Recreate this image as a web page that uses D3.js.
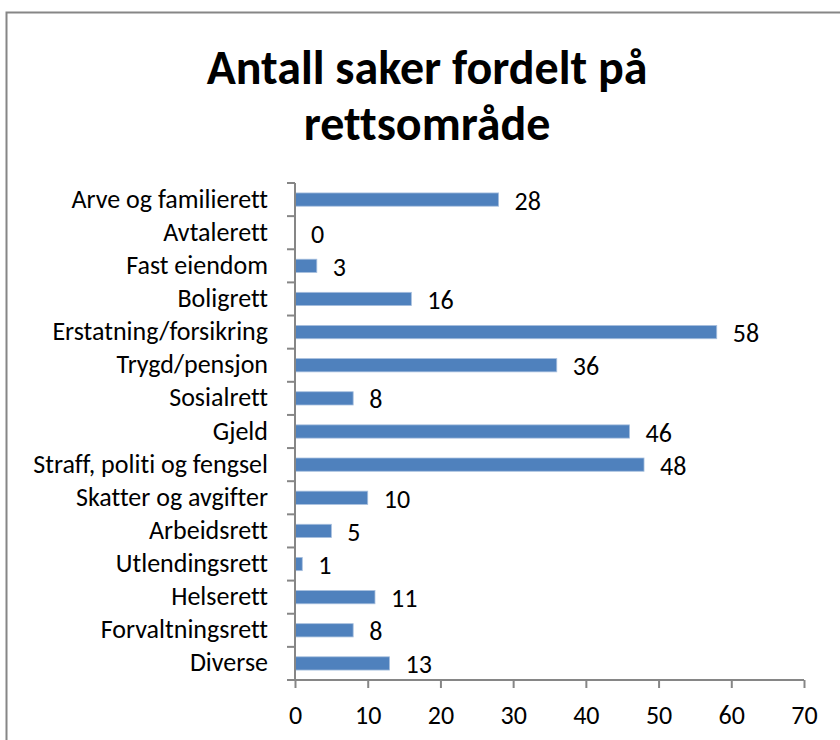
<!DOCTYPE html>
<html>
<head>
<meta charset="utf-8">
<title>Antall saker fordelt på rettsområde</title>
<script src="https://d3js.org/d3.v7.min.js"></script>
<style>
  body { margin: 0; background: #fff; }
  svg text { font-family: Carlito, Calibri, "Open Sans", sans-serif; fill: #000; font-variant-ligatures: none; }
  .axis path, .axis line { stroke: #868686; stroke-width: 2px; }
</style>
</head>
<body>
<div id="chart"></div>
<script>
// data
var categories = ["Arve og familierett", "Avtalerett", "Fast eiendom", "Boligrett",
  "Erstatning/forsikring", "Trygd/pensjon", "Sosialrett", "Gjeld",
  "Straff, politi og fengsel", "Skatter og avgifter", "Arbeidsrett",
  "Utlendingsrett", "Helserett", "Forvaltningsrett", "Diverse"];
var counts = [28, 0, 3, 16, 58, 36, 8, 46, 48, 10, 5, 1, 11, 8, 13];
var xTicks = [0, 10, 20, 30, 40, 50, 60, 70];
var titleLines = ["Antall saker fordelt på", "rettsområde"];

var W = 840, H = 740;
var svg = d3.select("#chart").append("svg")
    .attr("width", W)
    .attr("height", H);

// chart area frame (only top and left edges are inside the picture)
svg.append("rect")
    .attr("x", 6.5).attr("y", 12.5)
    .attr("width", 1000).attr("height", 1000)
    .attr("fill", "none")
    .attr("stroke", "#868686")
    .attr("stroke-width", 2);

// title
svg.selectAll("text.title")
    .data(titleLines)
    .enter()
    .append("text")
    .attr("class", "title")
    .attr("x", 427)
    .attr("y", function (d, i) { return 84 + i * 56; })
    .attr("text-anchor", "middle")
    .style("font-size", "48px")
    .style("font-weight", "bold")
    .text(function (d) { return d; });

var x = d3.scaleLinear().domain([0, 70]).range([295, 804]);
var y = d3.scaleBand().domain(categories).range([183, 680]).paddingInner(0.6).paddingOuter(0.3);

// bars
svg.selectAll("rect.bar")
    .data(counts)
    .enter()
    .append("rect")
    .attr("class", "bar")
    .attr("x", x(0))
    .attr("y", function (d, i) { return y(categories[i]); })
    .attr("width", function (d) { return x(d) - x(0); })
    .attr("height", y.bandwidth())
    .attr("fill", "#4F81BD")
    .attr("stroke", "#A7BFDE")
    .attr("stroke-width", 0.8);

// value labels
svg.selectAll("text.val")
    .data(counts)
    .enter()
    .append("text")
    .attr("class", "val")
    .attr("x", function (d) { return x(d) + 16; })
    .attr("y", function (d, i) { return y(categories[i]) + y.bandwidth() / 2 + 10; })
    .style("font-size", "26px")
    .text(function (d) { return d; });

// category labels
svg.selectAll("text.cat")
    .data(categories)
    .enter()
    .append("text")
    .attr("class", "cat")
    .attr("x", 268)
    .attr("y", function (d) { return y(d) + y.bandwidth() / 2 + 8; })
    .attr("text-anchor", "end")
    .style("font-size", "26px")
    .text(function (d) { return d; });

// y axis line with ticks at band edges
var yAxis = svg.append("g").attr("class", "axis");
yAxis.append("line")
    .attr("x1", 295).attr("x2", 295)
    .attr("y1", 183).attr("y2", 680);
var edges = categories.map(function (d) { return y(d) - y.step() * y.paddingInner() / 2; });
edges.push(680);
yAxis.selectAll("line.tk")
    .data(edges)
    .enter()
    .append("line")
    .attr("class", "tk")
    .attr("x1", 287).attr("x2", 295)
    .attr("y1", function (d) { return d; })
    .attr("y2", function (d) { return d; });

// x axis
var xAxis = svg.append("g")
    .attr("class", "axis")
    .attr("transform", "translate(0,680)")
    .call(d3.axisBottom(x).tickValues(xTicks).tickSize(8).tickSizeOuter(0).tickPadding(18));
xAxis.select(".domain").attr("d", "M287,0H804");
xAxis.selectAll("text")
    .style("font-size", "26px")
    .style("font-family", "Carlito, Calibri, 'Open Sans', sans-serif")
    .attr("fill", "#000");
</script>
</body>
</html>
